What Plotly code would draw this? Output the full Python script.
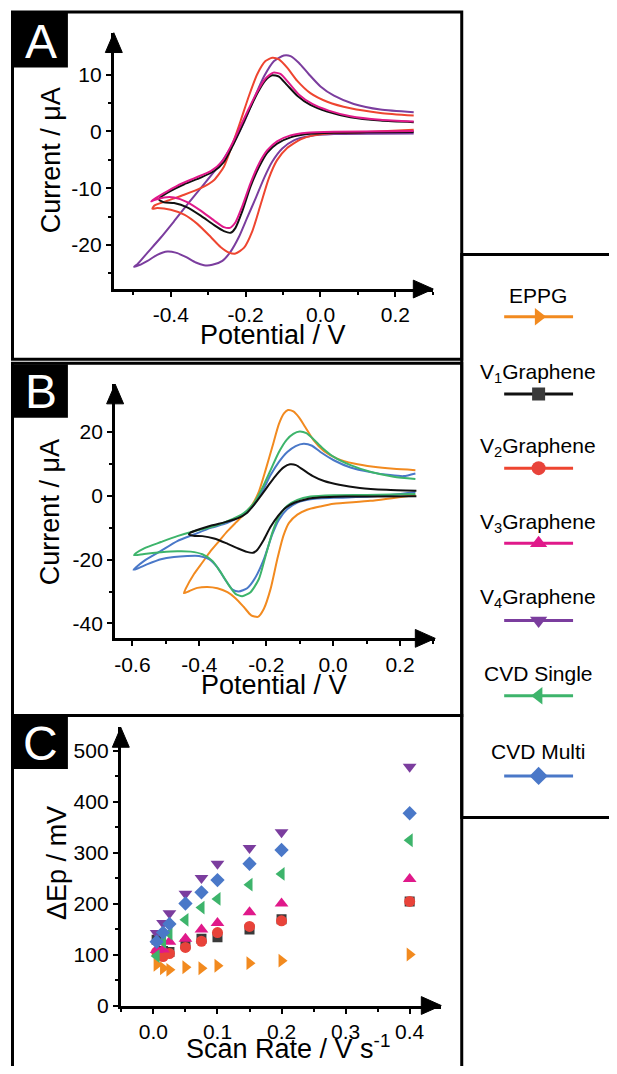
import plotly.graph_objects as go

# ---------------- DATA ----------------
# Panel A / B cyclic voltammograms (potential V, current uA)
v1_V = [0.249, 0.124, 0.036, -0.036, -0.080, -0.116, -0.142, -0.164, -0.187, -0.209, -0.227, -0.240, -0.258, -0.284, -0.320, -0.356, -0.391, -0.418, -0.431,
        -0.427, -0.400, -0.364, -0.320, -0.284, -0.258, -0.236, -0.213, -0.191, -0.169, -0.147, -0.129, -0.111, -0.089, -0.062, -0.027, 0.018, 0.080, 0.160, 0.249]
v1_I = [-0.12, -0.17, -0.23, -0.47, -1.05, -2.15, -3.72, -6.22, -9.71, -14.07, -16.98, -17.85, -17.56, -16.51, -14.83, -13.37, -12.62, -12.50, -12.03,
        -11.57, -10.47, -9.30, -8.14, -6.98, -5.35, -2.73, 0.47, 3.66, 6.69, 9.01, 9.88, 9.65, 8.14, 6.28, 4.65, 3.49, 2.50, 1.92, 1.63]

v2_V = [0.249, 0.124, 0.036, -0.018, -0.053, -0.089, -0.116, -0.138, -0.160, -0.182, -0.204, -0.227, -0.244, -0.267, -0.293, -0.329, -0.364, -0.400, -0.436, -0.449,
        -0.443, -0.409, -0.364, -0.320, -0.284, -0.258, -0.236, -0.213, -0.191, -0.169, -0.147, -0.129, -0.111, -0.089, -0.062, -0.027, 0.018, 0.080, 0.160, 0.249]
v2_I = [0.29, -0.12, -0.29, -0.70, -1.40, -2.91, -5.06, -8.26, -12.91, -17.56, -20.47, -21.51, -21.34, -20.35, -18.60, -16.28, -14.65, -13.78, -13.49, -13.60,
        -13.02, -12.21, -11.16, -10.00, -8.55, -6.22, -2.44, 1.92, 6.28, 10.06, 12.38, 12.97, 12.67, 11.22, 8.90, 6.74, 5.23, 4.07, 3.26, 2.79]

v3_V = [0.249, 0.036, -0.036, -0.080, -0.116, -0.142, -0.164, -0.187, -0.209, -0.227, -0.242, -0.258, -0.284, -0.320, -0.356, -0.391, -0.418, -0.444, -0.452,
        -0.444, -0.418, -0.382, -0.338, -0.293, -0.262, -0.238, -0.215, -0.191, -0.169, -0.147, -0.126, -0.107, -0.084, -0.058, -0.022, 0.022, 0.080, 0.160, 0.249]
v3_I = [0.06, -0.06, -0.23, -0.70, -1.74, -3.31, -5.64, -9.13, -13.20, -15.99, -16.98, -16.86, -15.70, -13.95, -12.44, -11.63, -11.63, -12.09, -12.33,
        -11.92, -10.87, -9.53, -8.26, -6.98, -5.23, -2.44, 0.76, 4.07, 6.98, 9.30, 10.35, 10.12, 8.49, 6.51, 4.83, 3.66, 2.67, 2.03, 1.74]

v4_V = [0.249, 0.036, -0.027, -0.071, -0.102, -0.129, -0.151, -0.173, -0.196, -0.218, -0.240, -0.262, -0.289, -0.311, -0.333, -0.360, -0.387, -0.409, -0.436, -0.462, -0.484, -0.498,
        -0.489, -0.462, -0.427, -0.391, -0.356, -0.320, -0.284, -0.258, -0.231, -0.204, -0.178, -0.151, -0.124, -0.098, -0.080, -0.058, -0.031, 0.000, 0.036, 0.089, 0.160, 0.249]
v4_I = [-0.35, -0.47, -0.81, -1.57, -3.02, -5.35, -8.26, -11.74, -15.23, -18.60, -21.16, -22.79, -23.49, -23.55, -23.08, -22.09, -21.34, -21.16, -21.74, -22.79, -23.55, -23.84,
        -23.37, -21.34, -18.72, -15.81, -12.91, -10.00, -7.09, -4.77, -1.86, 1.63, 5.70, 9.65, 12.38, 13.37, 13.26, 12.09, 10.06, 7.91, 6.28, 4.83, 3.84, 3.37]

eppg_V = [0.246, 0.111, 0.002, -0.038, -0.078, -0.107, -0.132, -0.149, -0.167, -0.187, -0.207, -0.225, -0.245, -0.267, -0.292, -0.316, -0.346, -0.376, -0.406, -0.431, -0.446,
          -0.441, -0.416, -0.391, -0.366, -0.341, -0.316, -0.292, -0.267, -0.242, -0.222, -0.202, -0.182, -0.162, -0.147, -0.135, -0.119, -0.102, -0.083, -0.058, -0.028, 0.012, 0.062, 0.121, 0.181, 0.246]
eppg_I = [0.31, -1.55, -2.48, -3.31, -4.34, -5.89, -8.48, -12.62, -19.86, -29.16, -35.37, -37.95, -37.44, -34.85, -32.06, -30.20, -28.96, -28.54, -28.85, -29.89, -30.51,
          -29.16, -24.51, -20.89, -17.27, -14.17, -11.07, -8.48, -5.89, -2.79, 1.34, 8.07, 15.30, 22.54, 25.85, 26.89, 26.47, 24.61, 21.51, 17.37, 14.06, 11.69, 10.13, 9.10, 8.48, 8.07]

cvds_V = [0.246, 0.101, 0.002, -0.068, -0.107, -0.137, -0.162, -0.182, -0.202, -0.222, -0.247, -0.272, -0.292, -0.311, -0.336, -0.361, -0.391, -0.426, -0.466, -0.515, -0.565, -0.595,
          -0.590, -0.565, -0.515, -0.466, -0.416, -0.366, -0.316, -0.267, -0.237, -0.212, -0.187, -0.162, -0.139, -0.119, -0.100, -0.080, -0.058, -0.033, 0.002, 0.052, 0.111, 0.181, 0.246]
cvds_I = [0.62, 0.31, 0.21, -0.21, -1.24, -3.10, -6.41, -11.58, -18.82, -26.06, -30.20, -31.44, -30.71, -28.13, -23.99, -20.37, -18.30, -17.48, -17.37, -17.68, -18.20, -18.61,
          -17.99, -16.44, -14.48, -12.62, -11.07, -9.82, -7.96, -5.38, -2.28, 2.38, 8.07, 13.75, 17.58, 19.44, 20.17, 19.65, 17.68, 15.10, 12.20, 9.62, 7.55, 6.00, 5.27]

cvdm_V = [0.246, 0.201, 0.111, 0.002, -0.068, -0.107, -0.137, -0.162, -0.182, -0.207, -0.232, -0.257, -0.282, -0.301, -0.324, -0.346, -0.371, -0.401, -0.436, -0.476, -0.515, -0.555, -0.585, -0.597,
          -0.590, -0.565, -0.515, -0.466, -0.416, -0.366, -0.316, -0.267, -0.237, -0.212, -0.187, -0.162, -0.137, -0.112, -0.088, -0.063, -0.038, 0.002, 0.052, 0.111, 0.171, 0.211, 0.246]
cvdm_I = [1.24, 0.62, -0.21, -0.62, -1.03, -2.07, -4.14, -7.45, -12.10, -19.86, -25.54, -28.96, -29.99, -29.37, -26.06, -22.44, -19.86, -18.82, -18.82, -19.13, -19.86, -21.41, -22.75, -23.16,
          -22.44, -20.37, -17.27, -14.17, -12.10, -10.03, -8.48, -5.69, -2.79, 1.34, 6.51, 10.65, 13.75, 15.62, 16.34, 15.72, 13.75, 11.17, 8.89, 7.45, 6.51, 6.20, 7.03]

# Panel C: peak separation vs scan rate
scan_rate = [0.005, 0.015, 0.025, 0.05, 0.075, 0.1, 0.15, 0.2, 0.4]
dEp_eppg = [80, 73, 70, 75, 73, 78, 83, 88, 100]
dEp_v1 = [129, 107, 105, 120, 131, 134, 149, 169, 204]
dEp_v2 = [105, 96, 102, 114, 126, 143, 155, 166, 204]
dEp_v3 = [109, 110, 125, 131, 149, 162, 183, 200, 248]
dEp_v4 = [142, 162, 181, 219, 250, 278, 309, 340, 468]
dEp_cvds = [97, 125, 141, 168, 192, 209, 237, 258, 324]
dEp_cvdm = [125, 143, 160, 200, 222, 246, 278, 305, 377]

series_names = ["EPPG", "V<sub>1</sub>Graphene", "V<sub>2</sub>Graphene", "V<sub>3</sub>Graphene",
                "V<sub>4</sub>Graphene", "CVD Single", "CVD Multi"]

# tick labels
xA_ticks = [-0.4, -0.2, 0.0, 0.2]
xA_text = ["-0.4", "-0.2", "0.0", "0.2"]
yA_ticks = [-20, -10, 0, 10]
yA_text = ["-20", "-10", "0", "10"]
xB_ticks = [-0.6, -0.4, -0.2, 0.0, 0.2]
xB_text = ["-0.6", "-0.4", "-0.2", "0.0", "0.2"]
yB_ticks = [-40, -20, 0, 20]
yB_text = ["-40", "-20", "0", "20"]
xC_ticks = [0.0, 0.1, 0.2, 0.3, 0.4]
xC_text = ["0.0", "0.1", "0.2", "0.3", "0.4"]
yC_ticks = [0, 100, 200, 300, 400, 500]
yC_text = ["0", "100", "200", "300", "400", "500"]

# ---------------- STYLE ----------------
OFF = 8                 # default page margin of the html body
W, H = 617 - 2 * OFF, 1074 - 2 * OFF   # fit inside the window without scrolling
FONT = "Liberation Sans, Arial, sans-serif"
C_EPPG = "#F28A1F"
C_V1 = "#111111"
C_V1M = "#3A3A3A"
C_V2 = "#EE4530"
C_V3 = "#E0198A"
C_V4 = "#7B3D9E"
C_CS = "#3DB46B"
C_CM = "#4A78C8"

colors = [C_EPPG, C_V1, C_V2, C_V3, C_V4, C_CS, C_CM]
mcolors = [C_EPPG, C_V1M, "#E8433A", C_V3, C_V4, C_CS, C_CM]
symbols = ["triangle-right", "square", "circle", "triangle-up", "triangle-down", "triangle-left", "diamond"]
msizes = [12, 10, 11, 12, 12, 12, 11]


def PX(x):
    return (x - OFF) / W


def PY(y):
    return 1 - (y - OFF) / H


fig = go.Figure()

LW = 2


def cv(xs, ys, color, xa, ya):
    fig.add_trace(go.Scatter(x=xs, y=ys, mode="lines", xaxis=xa, yaxis=ya,
                             line=dict(color=color, width=LW, shape="spline", smoothing=0.6),
                             showlegend=False, hoverinfo="skip"))


# Panel A
cv(v4_V, v4_I, C_V4, "x", "y")
cv(v2_V, v2_I, C_V2, "x", "y")
cv(v1_V, v1_I, C_V1, "x", "y")
cv(v3_V, v3_I, C_V3, "x", "y")
# Panel B
cv(eppg_V, eppg_I, C_EPPG, "x2", "y2")
cv(cvdm_V, cvdm_I, C_CM, "x2", "y2")
cv(cvds_V, cvds_I, C_CS, "x2", "y2")
cv(v1_V, v1_I, C_V1, "x2", "y2")

# Panel C
dEp_all = [dEp_eppg, dEp_v1, dEp_v2, dEp_v3, dEp_v4, dEp_cvds, dEp_cvdm]
for i, d in enumerate(dEp_all):
    fig.add_trace(go.Scatter(x=scan_rate, y=d, mode="markers", xaxis="x3", yaxis="y3",
                             marker=dict(symbol=symbols[i], size=msizes[i], color=mcolors[i],
                                         line=dict(width=0)),
                             showlegend=False, hoverinfo="skip"))

# Legend panel (custom, drawn in pixel-unit axis)
leg_text_y = [299, 377, 452, 528, 604, 680, 759]
leg_line_y = [320, 398, 473, 549, 627, 703, 784]
LEG_X0, LEG_X1, LEG_XM = 504, 573, 538.5
for i in range(7):
    fig.add_trace(go.Scatter(x=[LEG_X0, LEG_X1], y=[leg_line_y[i]] * 2, mode="lines",
                             xaxis="x4", yaxis="y4", line=dict(color=colors[i], width=3),
                             showlegend=False, hoverinfo="skip"))
    fig.add_trace(go.Scatter(x=[LEG_XM], y=[leg_line_y[i]], mode="markers",
                             xaxis="x4", yaxis="y4",
                             marker=dict(symbol=symbols[i], size=msizes[i] + 3, color=mcolors[i]),
                             showlegend=False, hoverinfo="skip"))

# ---------------- AXES ----------------
tickfont = dict(family=FONT, size=21, color="black")


def axis_common(ticks, text, minor_dtick, minor_tick0, rng, dom, anchor):
    return dict(domain=dom, range=rng, anchor=anchor, tickmode="array", tickvals=ticks, ticktext=text,
                showline=True, linecolor="black", linewidth=3, ticks="outside", ticklen=5,
                tickwidth=2, tickcolor="black", showgrid=False, zeroline=False,
                tickfont=tickfont,
                minor=dict(tickmode="linear", dtick=minor_dtick, tick0=minor_tick0, ticks="outside",
                           ticklen=3, tickwidth=2, tickcolor="black", showgrid=False))


# axis geometry in target pixels: (x at y-axis, x at arrow tip, y at x-axis, y at arrow tip)
A_x0, A_x1, A_y0, A_y1 = 113, 433, 292, 33
B_x0, B_x1, B_y0, B_y1 = 114.3, 435, 645, 388
C_x0, C_x1, C_y0, C_y1 = 120, 441, 1016, 735

LEG_RIGHT = OFF + W   # right edge of the drawable page

fig.update_layout(
    xaxis=axis_common(xA_ticks, xA_text, 0.1, -0.5, [(A_x0 - 320) / 375, (A_x1 - 320) / 375], [PX(A_x0), PX(A_x1)], "y"),
    yaxis=axis_common(yA_ticks, yA_text, 5, -25, [(132.7 - A_y0) / 5.74, (132.7 - A_y1) / 5.74], [PY(A_y0), PY(A_y1)], "x"),
    xaxis2=axis_common(xB_ticks, xB_text, 0.1, -0.5, [(3 * B_x0 - 998) / 1005, (3 * B_x1 - 998) / 1005], [PX(B_x0), PX(B_x1)], "y2"),
    yaxis2=axis_common(yB_ticks, yB_text, 10, -30, [(408 - 3 * (B_y0 - 365)) / 9.67, (408 - 3 * (B_y1 - 365)) / 9.67], [PY(B_y0), PY(B_y1)], "x2"),
    xaxis3=axis_common(xC_ticks, xC_text, 0.05, 0.05, [(3 * C_x0 - 458) / 1925, (3 * C_x1 - 458) / 1925], [PX(C_x0), PX(C_x1)], "y3"),
    yaxis3=axis_common(yC_ticks, yC_text, 50, 50, [(888 - 3 * (C_y0 - 720)) / 1.546, (888 - 3 * (C_y1 - 720)) / 1.546], [PY(C_y0), PY(C_y1)], "x3"),
    xaxis4=dict(domain=[PX(462), 1], range=[462, LEG_RIGHT], visible=False, anchor="y4"),
    yaxis4=dict(domain=[PY(826), PY(257)], range=[826, 257], visible=False, anchor="x4"),
)

shapes = []
annotations = []


def rect(x0, y0, x1, y1, fill=None, lw=3):
    shapes.append(dict(type="rect", xref="paper", yref="paper", x0=PX(x0), x1=PX(x1), y0=PY(y0), y1=PY(y1),
                       line=dict(color="black", width=lw if fill is None else 0),
                       fillcolor=fill if fill else "rgba(0,0,0,0)", layer="above"))


def tri(pts):
    path = "M " + " L ".join(f"{PX(x):.5f},{PY(y):.5f}" for x, y in pts) + " Z"
    shapes.append(dict(type="path", xref="paper", yref="paper", path=path,
                       fillcolor="black", line=dict(color="black", width=1), layer="above"))


def arrows(x0, x1, y0, y1):
    # y-axis arrow (tip at top), x-axis arrow (tip at right)
    tri([(x0, y1), (x0 - 8.5, y1 + 20), (x0 + 8.5, y1 + 20)])
    tri([(x1, y0), (x1 - 20, y0 - 9), (x1 - 20, y0 + 9)])


# panel frames
rect(11.5, 12, 461.5, 363)
rect(11.5, 367, 461.5, 723)
rect(11.5, 723, 461.5, 1082)
# legend frame
rect(461.5, 257, 630, 826)

# panel letter boxes
for (y0, y1, letter) in [(13, 68, "A"), (368, 422, "B"), (724, 777, "C")]:
    rect(12, y0, 67, y1, fill="black")
    annotations.append(dict(xref="paper", yref="paper", x=PX(40), y=PY((y0 + y1) / 2 + 1), text=letter,
                            showarrow=False, xanchor="center", yanchor="middle",
                            font=dict(family=FONT, size=48, color="white")))

arrows(A_x0, A_x1, A_y0, A_y1)
arrows(B_x0, B_x1, B_y0, B_y1)
arrows(C_x0, C_x1, C_y0, C_y1)

titlefont = dict(family=FONT, size=27, color="black")


def label(x, y, text, angle=0, font=titlefont):
    annotations.append(dict(xref="paper", yref="paper", x=PX(x), y=PY(y), text=text, showarrow=False,
                            xanchor="center", yanchor="middle", textangle=angle, font=font))


label(50, 162, "Current / μA", -90)
label(272, 338, "Potential / V")
label(48.5, 517, "Current / μA", -90)
label(273, 692, "Potential / V")
label(56, 872, "ΔEp / mV", -90)
label(287, 1058, "Scan Rate / V s<sup>-1</sup>")

legfont = dict(family=FONT, size=21, color="black")
for i in range(7):
    label(538, leg_text_y[i], series_names[i], font=legfont)

fig.update_layout(width=W, height=H, margin=dict(l=0, r=0, t=0, b=0),
                  paper_bgcolor="white", plot_bgcolor="rgba(0,0,0,0)",
                  shapes=shapes, annotations=annotations, showlegend=False,
                  font=dict(family=FONT, color="black"))

fig.write_html("out.html")
